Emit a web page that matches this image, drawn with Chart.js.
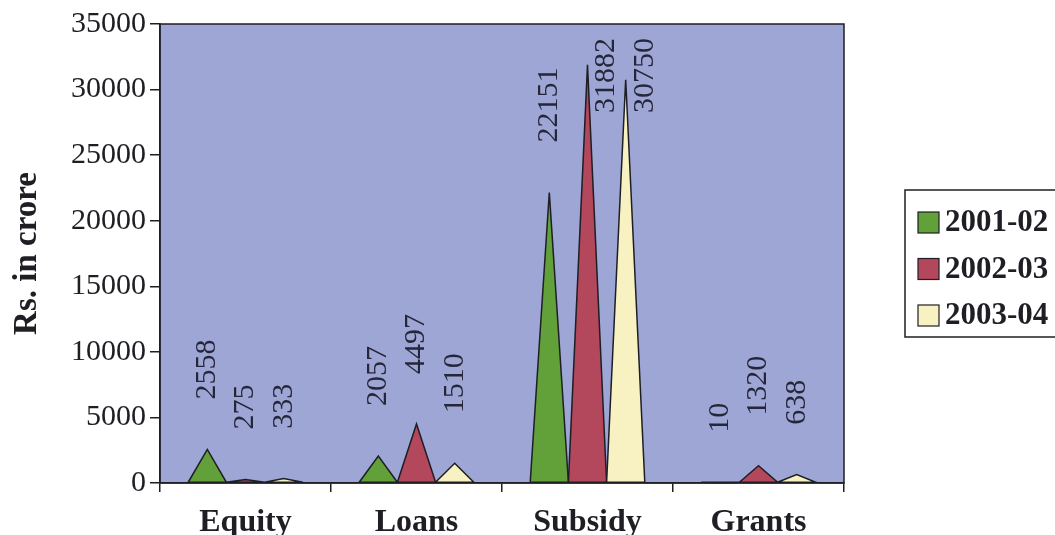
<!DOCTYPE html>
<html>
<head>
<meta charset="utf-8">
<script src="https://cdn.jsdelivr.net/npm/chart.js@4.4.1/dist/chart.umd.min.js"></script>
<style>
  body { margin: 0; background: #fff; }
  #wrap { width: 1055px; height: 535px; }
</style>
</head>
<body>
<div id="wrap"><canvas id="chart" width="1055" height="535"></canvas></div>
<script>
// data
const categories = ['Equity', 'Loans', 'Subsidy', 'Grants'];
const seriesNames = ['2001-02', '2002-03', '2003-04'];
const values0102 = [2558, 2057, 22151, 10];
const values0203 = [275, 4497, 31882, 1320];
const values0304 = [333, 1510, 30750, 638];
const yMax = 35000;
const yStep = 5000;

const seriesColors = ['#62a03a', '#b3475b', '#f8f2c2'];
const serif = "'Liberation Serif', 'Times New Roman', serif";
const ink = '#1e1e24';

// plot area fill
const plotBackground = {
    id: 'plotBackground',
    beforeDraw(chart) {
        const { ctx, chartArea: a } = chart;
        ctx.save();
        ctx.fillStyle = '#9da6d4';
        ctx.fillRect(a.left, a.top, a.right - a.left, a.bottom - a.top);
        ctx.restore();
    }
};

// each bar is drawn as a cone seen from the side
const cones = {
    id: 'cones',
    afterDatasetsDraw(chart) {
        const ctx = chart.ctx;
        chart.data.datasets.forEach((ds, i) => {
            const meta = chart.getDatasetMeta(i);
            meta.data.forEach(bar => {
                const half = bar.width / 2;
                ctx.save();
                ctx.beginPath();
                ctx.moveTo(bar.x - half, bar.base);
                ctx.lineTo(bar.x, bar.y);
                ctx.lineTo(bar.x + half, bar.base);
                ctx.closePath();
                ctx.fillStyle = seriesColors[i];
                ctx.fill();
                ctx.lineWidth = 1.5;
                ctx.strokeStyle = ink;
                ctx.stroke();
                ctx.restore();
            });
        });

        // value labels, rotated; labels that would leave the plot go beside the cone
        ctx.save();
        ctx.font = '30px ' + serif;
        ctx.fillStyle = '#26263a';
        ctx.textBaseline = 'middle';
        ctx.textAlign = 'left';
        const top = chart.chartArea.top;
        chart.data.datasets.forEach((ds, i) => {
            const meta = chart.getDatasetMeta(i);
            meta.data.forEach((bar, j) => {
                const text = String(ds.data[j]);
                const len = ctx.measureText(text).width;
                let start = bar.y - 50;
                let x = bar.x;
                if (start - len < top + 14) {
                    start = top + 14 + len;
                    x = bar.x + bar.width / 2;
                }
                ctx.save();
                ctx.translate(x, start);
                ctx.rotate(-Math.PI / 2);
                ctx.fillText(text, 0, 0);
                ctx.restore();
            });
        });
        ctx.restore();

        // frame round the plot
        const a = chart.chartArea;
        ctx.save();
        ctx.strokeStyle = ink;
        ctx.lineWidth = 1.5;
        ctx.strokeRect(a.left, a.top, a.right - a.left, a.bottom - a.top);
        ctx.restore();
    }
};

// boxed legend on the right
const boxLegend = {
    id: 'boxLegend',
    afterDraw(chart) {
        const ctx = chart.ctx;
        ctx.save();
        ctx.strokeStyle = ink;
        ctx.lineWidth = 1.5;
        ctx.strokeRect(905, 190, 170, 147);
        ctx.font = 'bold 31px ' + serif;
        ctx.textBaseline = 'middle';
        ctx.textAlign = 'left';
        seriesNames.forEach((name, i) => {
            const cy = 222 + i * 46.5;
            ctx.fillStyle = seriesColors[i];
            ctx.fillRect(918, cy - 10, 21, 21);
            ctx.lineWidth = 1.2;
            ctx.strokeRect(918, cy - 10, 21, 21);
            ctx.fillStyle = ink;
            ctx.fillText(name, 945, cy + 1);
        });
        ctx.restore();
    }
};

const datasets = [values0102, values0203, values0304].map((vals, i) => ({
    label: seriesNames[i],
    data: vals,
    backgroundColor: 'rgba(0,0,0,0)',
    borderWidth: 0,
    categoryPercentage: 0.67,
    barPercentage: 1.0
}));

new Chart(document.getElementById('chart'), {
    type: 'bar',
    data: { labels: categories, datasets: datasets },
    options: {
        responsive: false,
        animation: false,
        layout: { padding: { top: 24, right: 211, left: 0, bottom: 0 } },
        plugins: {
            legend: { display: false },
            tooltip: { enabled: false }
        },
        scales: {
            x: {
                afterFit(scale) { scale.height = 52; },
                grid: { drawOnChartArea: false, drawTicks: true, tickLength: 9, color: ink, lineWidth: 1.5 },
                border: { display: true, color: ink, width: 1.5 },
                ticks: {
                    color: ink,
                    padding: 12,
                    font: { family: serif, size: 32, weight: 'bold' }
                }
            },
            y: {
                min: 0,
                max: yMax,
                afterFit(scale) { scale.width = 160; },
                grid: { drawOnChartArea: false, drawTicks: true, tickLength: 10, color: ink, lineWidth: 1.5 },
                border: { display: true, color: ink, width: 1.5 },
                ticks: {
                    stepSize: yStep,
                    color: ink,
                    padding: 4,
                    font: { family: serif, size: 30 },
                    callback: v => String(v)
                },
                title: {
                    display: true,
                    text: 'Rs. in crore',
                    color: ink,
                    padding: { top: 8, bottom: 0 },
                    font: { family: serif, size: 33, weight: 'bold' }
                }
            }
        }
    },
    plugins: [plotBackground, cones, boxLegend]
});
</script>
</body>
</html>
